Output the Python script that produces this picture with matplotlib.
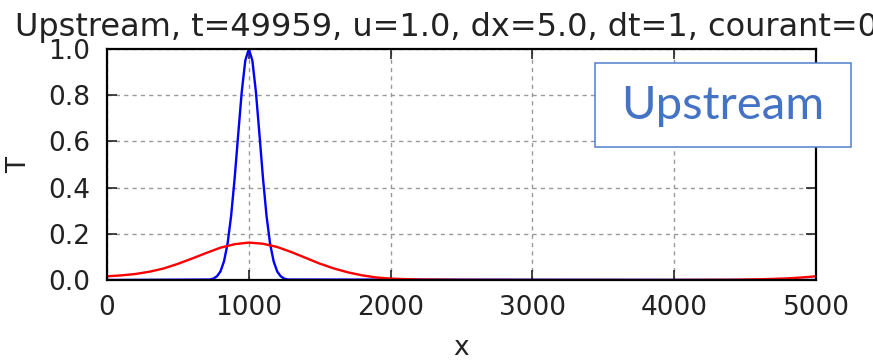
"""
Advection test: Upstream scheme after many steps vs. the initial pulse.
"""

import matplotlib
matplotlib.use("Agg")
import matplotlib.pyplot as plt
from matplotlib.patches import Rectangle

# Initial Gaussian pulse (blue)
init_x = [0, 725, 750, 775, 800, 825, 850, 875, 900, 925, 950, 975, 1000,
          1025, 1050, 1075, 1100, 1125, 1150, 1175, 1200, 1225, 1250, 1275, 5000]
init_T = [0.0, 0.002, 0.006, 0.016, 0.037, 0.081, 0.157, 0.277, 0.44, 0.63, 0.814, 0.95, 1.0,
          0.95, 0.814, 0.63, 0.44, 0.277, 0.157, 0.081, 0.037, 0.016, 0.006, 0.002, 0.0]

# Upstream solution at the final step (red)
up_x = [0, 100, 200, 300, 400, 500, 600, 700, 800, 900, 1000, 1100, 1200, 1300,
        1400, 1500, 1600, 1700, 1800, 1900, 2000, 2200, 2500, 3000, 4000, 4400,
        4600, 4800, 4900, 5000]
up_T = [0.016, 0.02, 0.026, 0.036, 0.05, 0.07, 0.093, 0.117, 0.14, 0.155, 0.162,
        0.157, 0.143, 0.121, 0.096, 0.071, 0.05, 0.033, 0.02, 0.011, 0.006, 0.002,
        0.0005, 0.0, 0.0, 0.001, 0.003, 0.007, 0.011, 0.016]

title = "Upstream, t=49959, u=1.0, dx=5.0, dt=1, courant=0.2"
xticks = [0, 1000, 2000, 3000, 4000, 5000]
yticks = [0.0, 0.2, 0.4, 0.6, 0.8, 1.0]

fig = plt.figure(figsize=(8.73, 3.6), dpi=100)
ax = fig.add_axes([0.1226, 0.2222, 0.8121, 0.6417])

ax.plot(init_x, init_T, color="#0000ff", lw=1.7)
ax.plot(up_x, up_T, color="#ff0000", lw=1.7)

ax.set_xlim(0, 5000)
ax.set_ylim(0, 1)
ax.set_xticks(xticks)
ax.set_yticks(yticks)
ax.set_yticklabels([f"{v:.1f}" for v in yticks])
ax.grid(True, color="#999999", linestyle=(0, (3, 3)), lw=1.0)
ax.tick_params(direction="in", top=True, right=True, length=7, width=1.2,
               labelsize=19, colors="#222222")
ax.tick_params(axis="x", pad=11)
ax.tick_params(axis="y", pad=12)
for sp in ax.spines.values():
    sp.set_linewidth(1.6)
    sp.set_color("black")

ax.set_xlabel("x", fontsize=19, color="#222222", labelpad=10)
ax.set_ylabel("T", fontsize=19, color="#222222", labelpad=12)
ax.set_title(title, fontsize=23, color="#222222", pad=9)

# Label box in the upper right corner
box = Rectangle((595 / 873, 1 - 147 / 360), 256 / 873, 84 / 360,
                transform=fig.transFigure, facecolor="white",
                edgecolor="#4f7fcc", lw=1.1, zorder=10)
fig.patches.append(box)
fig.text(723 / 873, 1 - 106 / 360, "Upstream", family="Lato", fontsize=34,
         color="#4472c4", ha="center", va="center", zorder=11)

fig.savefig("out.png", dpi=100)
